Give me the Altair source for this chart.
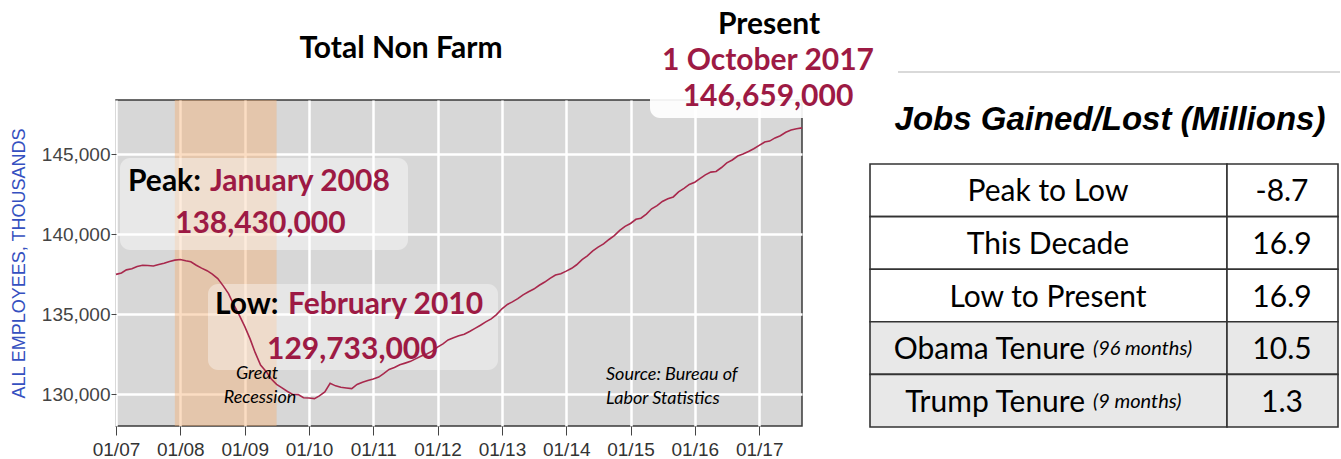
import altair as alt
import pandas as pd

# ---------------- data ----------------
months = pd.date_range("2007-01-01", "2017-09-01", freq="MS").strftime("%Y-%m-%dT00:00:00").tolist()
employees = [
    137500, 137590, 137780, 137850, 137990, 138070, 138050, 138020, 138110, 138200, 138310, 138390,  # 2007
    138430, 138350, 138290, 138070, 137890, 137730, 137520, 137240, 136780, 136300, 135570, 134950,  # 2008
    134250, 133450, 132620, 131830, 131450, 130960, 130620, 130400, 130180, 129990, 129980, 129790,  # 2009
    129770, 129733, 129900, 130150, 130690, 130530, 130440, 130400, 130360, 130620, 130760, 130860,  # 2010
    130960, 131080, 131300, 131560, 131680, 131850, 131950, 132060, 132230, 132400, 132520, 132700,  # 2011
    132950, 133150, 133400, 133530, 133660, 133760, 133930, 134120, 134320, 134530, 134720, 134980,  # 2012
    135350, 135620, 135780, 135980, 136220, 136410, 136580, 136820, 137020, 137250, 137460, 137540,  # 2013
    137700, 137880, 138100, 138420, 138660, 138970, 139200, 139400, 139680, 139920, 140250, 140500,  # 2014
    140680, 140940, 141010, 141270, 141600, 141800, 142060, 142220, 142340, 142660, 142880, 143120,  # 2015
    143260, 143500, 143720, 143890, 143930, 144180, 144470, 144650, 144900, 145020, 145180, 145350,  # 2016
    145560, 145770, 145830, 146030, 146170, 146380, 146520, 146600, 146659,                          # 2017
]
tick_years = list(range(2007, 2018))
y_ticks = [130000, 135000, 140000, 145000]
recession_start = ["2007-12-01T00:00:00"]
recession_end = ["2009-07-01T00:00:00"]

row_labels = ["Peak to Low", "This Decade", "Low to Present", "Obama Tenure", "Trump Tenure"]
row_notes = ["", "", "", "(96 months)", "(9 months)"]
row_values = ["-8.7", "16.9", "16.9", "10.5", "1.3"]

chart_title = "Total Non Farm"
table_title = "Jobs Gained/Lost (Millions)"
peak_month, peak_value = "January 2008", "138,430,000"
low_month, low_value = "February 2010", "129,733,000"
present_date, present_value = "1 October 2017", "146,659,000"

# ---------------- styling ----------------
W, H = 686, 326
CRIMSON = "#9d1a44"
FONT = "Lato"
AXFONT = "Liberation Sans"

df = pd.DataFrame({"date": months, "employees": employees})
rec = pd.DataFrame({"start": recession_start, "end": recession_end})
tbl = pd.DataFrame({"label": row_labels, "note": row_notes, "value": row_values})
one = pd.DataFrame({"k": [0]})

x_scale = alt.Scale(domain=[alt.DateTime(year=2007, month=1, date=1),
                            alt.DateTime(year=2017, month=9, date=1)])
y_scale = alt.Scale(domain=[128020, 148400], nice=False, zero=False)

x_axis = alt.Axis(values=[alt.DateTime(year=y, month=1, date=1) for y in tick_years],
                  format="%m/%y", title=None, labelFont=AXFONT, labelFontSize=19,
                  labelColor="#333", tickColor="#444", tickSize=9, labelPadding=5,
                  domain=False, grid=True, gridColor="white", gridWidth=2.5, labelFlush=False)
y_axis = alt.Axis(values=y_ticks, labelExpr="format(datum.value, ',')", title="ALL EMPLOYEES, THOUSANDS",
                  titleFont=AXFONT, titleFontSize=18, titleFontWeight="normal", titleColor="#3550c0",
                  titleAngle=270, titleX=-97, titleY=163, titleAlign="center", titleBaseline="middle",
                  labelFont=AXFONT, labelFontSize=19, labelColor="#444", tickColor="#444",
                  tickSize=5, labelPadding=1, domain=False, grid=True, gridColor="white", gridWidth=2.5)

recession = alt.Chart(rec).mark_rect(color="#f5ad70", opacity=0.42).encode(
    x=alt.X("start:T", scale=x_scale, axis=x_axis), x2="end:T",
    y=alt.value(0), y2=alt.value(H))


def box(x0, x1, y0, y1, op):
    return alt.Chart(one).mark_rect(color="white", opacity=op, cornerRadius=10).encode(
        x=alt.value(x0), x2=alt.value(x1), y=alt.value(y0), y2=alt.value(y1))


peak_box = box(4, 292, 58, 150, 0.42)
low_box = box(92, 382, 184, 270, 0.38)
present_box = box(534, 766, -100, 18, 0.92)

line = alt.Chart(df).mark_line(color="#a8284c", strokeWidth=1.6).encode(
    x=alt.X("date:T", scale=x_scale, axis=x_axis),
    y=alt.Y("employees:Q", scale=y_scale, axis=y_axis))


def txt(s, x, y, size, color="black", weight="bold", style="normal", align="left", font=FONT):
    return alt.Chart(pd.DataFrame({"t": [s]})).mark_text(
        font=font, fontSize=size, fontWeight=weight, fontStyle=style, color=color,
        align=align, baseline="alphabetic").encode(
        text="t:N", x=alt.value(x), y=alt.value(y))


texts = [
    txt(chart_title, 285, -42, 30, align="center"),
    txt("Present", 653, -66, 30, align="center"),
    txt(present_date, 652, -30, 30, color=CRIMSON, align="center"),
    txt(present_value, 652, 6, 30, color=CRIMSON, align="center"),
    txt("Peak:", 12, 91, 30),
    txt(peak_month, 94, 91, 30, color=CRIMSON),
    txt(peak_value, 59, 133, 30, color=CRIMSON),
    txt("Low:", 99, 214, 30),
    txt(low_month, 172, 214, 30, color=CRIMSON),
    txt(low_value, 151, 259, 30, color=CRIMSON),
    txt("Great", 141, 279, 18, weight="normal", style="italic", align="center"),
    txt("Recession", 144, 303, 18, weight="normal", style="italic", align="center"),
    txt("Source: Bureau of", 490, 280, 18, weight="normal", style="italic"),
    txt("Labor Statistics", 490, 304, 18, weight="normal", style="italic"),
    txt(table_title, 994, 30, 33, style="italic", align="center", font=AXFONT),
]

top_rule = alt.Chart(one).mark_rule(color="#cccccc", strokeWidth=1.5).encode(
    x=alt.value(782), x2=alt.value(1224), y=alt.value(-28))

row_scale = alt.Scale(domain=row_labels, range=[64, 327], paddingInner=0, paddingOuter=0)
row_y = alt.Y("label:N", scale=row_scale, axis=None, sort=row_labels)
row_yc = alt.Y("label:N", scale=row_scale, axis=None, sort=row_labels, bandPosition=0.5)
fill_cond = alt.condition("datum.note != ''", alt.value("#e8e8e8"), alt.value("white"))

cell_l = alt.Chart(tbl).mark_rect(stroke="#333", strokeWidth=1.6).encode(
    x=alt.value(754), x2=alt.value(1111), y=row_y, fill=fill_cond)
cell_r = alt.Chart(tbl).mark_rect(stroke="#333", strokeWidth=1.6).encode(
    x=alt.value(1111), x2=alt.value(1222), y=row_y, fill=fill_cond)

lbl_plain = alt.Chart(tbl).transform_filter("datum.note == ''").mark_text(
    font=FONT, fontSize=30, align="center", baseline="middle", color="black", dy=2).encode(
    x=alt.value(932), y=row_yc, text="label:N")
lbl_main = alt.Chart(tbl).transform_filter("datum.note != ''").mark_text(
    font=FONT, fontSize=30, align="right", baseline="middle", color="black", dy=2).encode(
    x=alt.value(969), y=row_yc, text="label:N")
lbl_note = alt.Chart(tbl).transform_filter("datum.note != ''").mark_text(
    font=FONT, fontSize=20, fontStyle="italic", align="left", baseline="middle", color="black", dy=1).encode(
    x=alt.value(977), y=row_yc, text="note:N")
vals = alt.Chart(tbl).mark_text(
    font=FONT, fontSize=30, align="center", baseline="middle", color="black", dy=2).encode(
    x=alt.value(1166), y=row_yc, text="value:N")

chart = alt.layer(
    recession, peak_box, low_box, line, present_box, *texts,
    top_rule, cell_l, cell_r, lbl_plain, lbl_main, lbl_note, vals,
).resolve_scale(y="independent").properties(
    width=W, height=H,
    autosize=alt.AutoSizeParams(type="none"),
    padding={"left": 116, "top": 100, "right": 539, "bottom": 33},
    background="white",
).configure_view(fill="#d7d7d7", stroke="#3a3a3a", strokeWidth=1.5)

chart.save("out.html", embed_options={"renderer": "svg", "actions": False})
